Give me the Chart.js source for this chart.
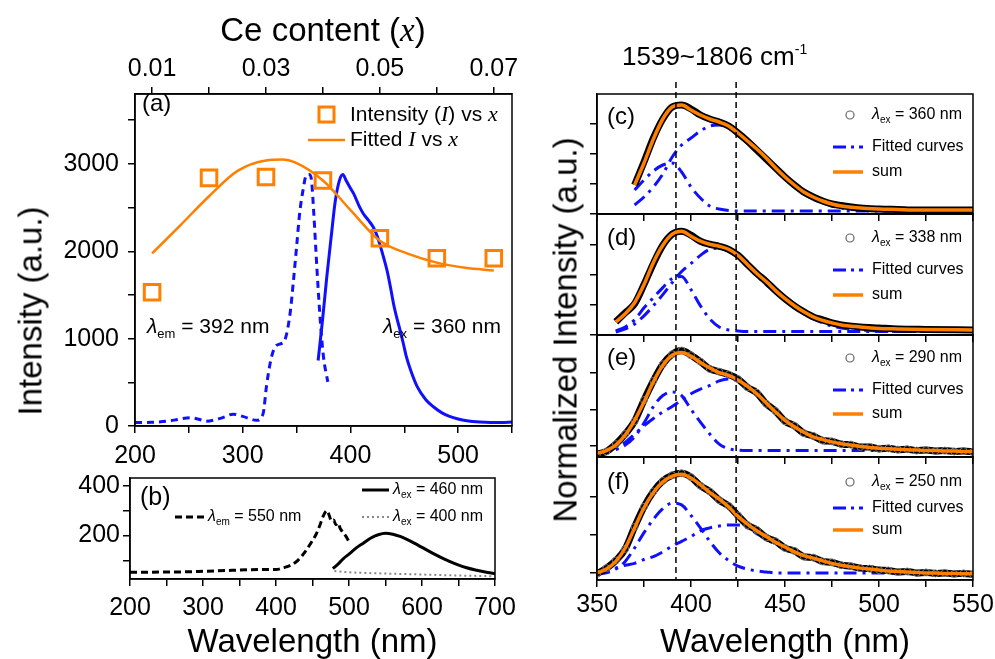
<!DOCTYPE html>
<html>
<head>
<meta charset="utf-8">
<script src="https://cdn.jsdelivr.net/npm/chart.js@4/dist/chart.umd.min.js"></script>
<style>
  body { margin: 0; background: #fff; width: 995px; height: 659px; position: relative; overflow: hidden;
         font-family: "Liberation Sans", Arial, sans-serif; }
  canvas { position: absolute; }
  .t { position: absolute; white-space: nowrap; color: #000; line-height: 1; }
  .t i { font-family: "Liberation Serif", "Times New Roman", serif; }
  .rot { transform: translate(-50%, -50%) rotate(-90deg); }
  sup { font-size: 14px; vertical-align: 11px; }
</style>
</head>
<body>
<canvas id="pa" width="540" height="470" style="left:0;top:0"></canvas>
<canvas id="pb" width="540" height="199" style="left:0;top:460px"></canvas>
<canvas id="pc" width="470" height="224" style="left:540px;top:0"></canvas>
<canvas id="pd" width="470" height="141" style="left:540px;top:204px"></canvas>
<canvas id="pe" width="470" height="142" style="left:540px;top:325px"></canvas>
<canvas id="pf" width="470" height="212" style="left:540px;top:447px"></canvas>

<div class="t" style="left:323px;top:30px;font-size:33px;transform:translate(-50%,-50%)">Ce content (<i>x</i>)</div>
<div class="t" style="left:622px;top:55px;font-size:26px;transform:translateY(-50%)">1539~1806 cm<sup>-1</sup></div>
<div class="t rot" style="left:30px;top:311px;font-size:33px">Intensity (a.u.)</div>
<div class="t rot" style="left:565px;top:330px;font-size:33px">Normalized Intensity (a.u.)</div>

<script>
const SANS = '"Liberation Sans", Arial, Helvetica, sans-serif';
const SERIF = '"Liberation Serif", "Times New Roman", serif';
const ORANGE = '#ff8000';
const BLUE = '#1010ff';
const DASHDOT = [13, 6, 3, 6];

// ---- (a) Ce content series (top axis) ----
const ceContent = [0.01, 0.02, 0.03, 0.04, 0.05, 0.06, 0.07];
const ceIntensity = [1530, 2840, 2850, 2810, 2150, 1920, 1920];
const fitContent = [0.010, 0.015, 0.020, 0.025, 0.030, 0.033, 0.035, 0.040, 0.045, 0.050, 0.055, 0.060, 0.065, 0.070];
const fitIntensity = [1975, 2300, 2630, 2920, 3040, 3050, 3020, 2810, 2460, 2120, 1970, 1870, 1810, 1780];

// ---- (a) excitation (em 392 nm) and emission (ex 360 nm) ----
const excWl = [200, 215, 230, 240, 251, 260, 266, 280, 291, 300, 313, 319, 322, 326, 330, 335, 339, 344, 347, 350, 353, 356, 359, 362, 364, 366, 369, 372, 375, 379];
const excIntensity = [40, 42, 55, 75, 95, 75, 55, 90, 135, 110, 65, 145, 450, 750, 905, 940, 980, 1290, 1650, 2050, 2450, 2700, 2870, 2880, 2800, 2430, 1780, 1210, 790, 505];
const emWl = [370, 374, 378, 382, 386, 390, 393, 396, 400, 403, 408, 412, 417, 421, 425, 428, 431, 434, 437, 440, 443, 446, 449, 452, 457, 462, 470, 477, 485, 492, 500, 508, 520, 530, 540, 550];
const emIntensity = [750, 1200, 1700, 2150, 2580, 2820, 2880, 2810, 2720, 2660, 2520, 2430, 2350, 2280, 2170, 2050, 1920, 1780, 1600, 1400, 1240, 1100, 950, 790, 600, 450, 300, 220, 150, 110, 80, 60, 45, 40, 40, 45];

// ---- (b) ----
const bExcWl = [200, 220, 240, 260, 280, 300, 320, 340, 360, 380, 400, 410, 420, 430, 440, 450, 455, 460, 465, 470, 473, 476, 479, 482, 485, 488, 491, 495, 500];
const bExcVal = [52, 52, 53, 53, 54, 56, 58, 60, 62, 63, 63, 70, 80, 100, 135, 180, 205, 240, 280, 300, 280, 258, 262, 243, 250, 228, 215, 200, 176];
const bEm460Wl = [478, 485, 492, 500, 510, 520, 530, 540, 550, 560, 570, 580, 590, 600, 615, 630, 645, 660, 675, 690, 700];
const bEm460Val = [67, 85, 106, 125, 150, 170, 190, 203, 209, 205, 196, 183, 168, 152, 128, 106, 87, 71, 60, 51, 47];
const bEm400Wl = [480, 500, 550, 600, 650, 700];
const bEm400Val = [57, 52, 47, 43, 39, 36];

// ---- (c) ex 360 nm ----
const cWl = [370, 375, 380, 385, 390, 395, 400, 405, 410, 415, 420, 425, 430, 435, 440, 445, 450, 455, 460, 465, 470, 475, 480, 490, 500, 510, 520, 535, 550];
const cMeas = [0.29, 0.52, 0.76, 0.95, 1.07, 1.09, 1.05, 0.99, 0.95, 0.92, 0.88, 0.81, 0.73, 0.64, 0.55, 0.46, 0.37, 0.29, 0.22, 0.17, 0.13, 0.10, 0.085, 0.06, 0.05, 0.045, 0.04, 0.04, 0.04];
const cSum = [0.29, 0.51, 0.75, 0.95, 1.07, 1.09, 1.04, 0.99, 0.95, 0.92, 0.88, 0.81, 0.73, 0.65, 0.56, 0.46, 0.37, 0.29, 0.22, 0.17, 0.13, 0.10, 0.08, 0.06, 0.05, 0.045, 0.04, 0.04, 0.04];
const cFit1 = [0.24, 0.34, 0.43, 0.49, 0.51, 0.42, 0.27, 0.16, 0.08, 0.05, 0.035, 0.03, 0.03, 0.03, 0.03, 0.03, 0.03, 0.03, 0.03, 0.03, 0.03, 0.03, 0.03, 0.03, 0.03, 0.03, 0.03, 0.03, 0.03];
const cFit2 = [0.09, 0.17, 0.27, 0.40, 0.57, 0.69, 0.76, 0.83, 0.88, 0.89, 0.86, 0.79, 0.71, 0.63, 0.54, 0.44, 0.35, 0.27, 0.20, 0.15, 0.11, 0.08, 0.06, 0.04, 0.035, 0.03, 0.03, 0.03, 0.03];

// ---- (d) ex 338 nm ----
const dWl = [360, 365, 370, 375, 380, 385, 390, 395, 400, 405, 410, 415, 420, 425, 430, 435, 440, 445, 450, 455, 460, 465, 470, 475, 480, 490, 500, 510, 525, 550];
const dMeas = [0.13, 0.22, 0.31, 0.50, 0.71, 0.89, 1.00, 1.03, 0.99, 0.93, 0.90, 0.88, 0.85, 0.79, 0.70, 0.61, 0.53, 0.44, 0.36, 0.29, 0.23, 0.18, 0.15, 0.12, 0.10, 0.08, 0.07, 0.06, 0.055, 0.05];
const dSum = [0.13, 0.21, 0.32, 0.50, 0.72, 0.89, 1.00, 1.03, 0.98, 0.93, 0.90, 0.88, 0.85, 0.79, 0.70, 0.61, 0.53, 0.44, 0.36, 0.29, 0.23, 0.18, 0.145, 0.12, 0.10, 0.08, 0.065, 0.06, 0.055, 0.05];
const dFit1 = [0.04, 0.08, 0.15, 0.27, 0.37, 0.47, 0.56, 0.58, 0.45, 0.29, 0.16, 0.08, 0.05, 0.04, 0.035, 0.035, 0.035, 0.035, 0.035, 0.035, 0.035, 0.035, 0.035, 0.035, 0.035, 0.035, 0.035, 0.035, 0.035, 0.035];
const dFit2 = [0.03, 0.06, 0.11, 0.19, 0.29, 0.40, 0.52, 0.63, 0.71, 0.79, 0.85, 0.86, 0.83, 0.77, 0.68, 0.59, 0.50, 0.42, 0.34, 0.27, 0.21, 0.16, 0.12, 0.09, 0.07, 0.05, 0.04, 0.035, 0.035, 0.035];

// ---- (e) ex 290 nm and (f) ex 250 nm, 5 nm grid ----
const efWl = [350, 355, 360, 365, 370, 375, 380, 385, 390, 395, 400, 405, 410, 415, 420, 425, 430, 435, 440, 445, 450, 455, 460, 465, 470, 475, 480, 485, 490, 495, 500, 505, 510, 515, 520, 525, 530, 535, 540, 545, 550];
const eMeas = [-0.09, -0.06, 0.02, 0.13, 0.27, 0.50, 0.71, 0.89, 1.00, 1.04, 0.99, 0.92, 0.84, 0.81, 0.78, 0.73, 0.64, 0.58, 0.46, 0.38, 0.27, 0.22, 0.14, 0.11, 0.06, 0.05, 0.02, 0.015, -0.01, -0.01, -0.03, -0.025, -0.04, -0.035, -0.05, -0.045, -0.055, -0.05, -0.06, -0.055, -0.065];
const eSum = [-0.08, -0.05, 0.01, 0.12, 0.28, 0.48, 0.70, 0.88, 0.99, 1.02, 0.98, 0.91, 0.85, 0.80, 0.77, 0.72, 0.65, 0.57, 0.47, 0.37, 0.28, 0.21, 0.15, 0.10, 0.07, 0.045, 0.025, 0.01, -0.005, -0.015, -0.025, -0.03, -0.035, -0.04, -0.045, -0.05, -0.05, -0.055, -0.055, -0.06, -0.06];
const eFit1 = [-0.07, -0.06, -0.04, 0.01, 0.10, 0.25, 0.43, 0.55, 0.59, 0.55, 0.40, 0.26, 0.13, 0.02, -0.03, -0.045, -0.05, -0.05, -0.05, -0.05, -0.05, -0.05, -0.05, -0.05, -0.05, -0.05, -0.05, -0.05, -0.05, -0.05, -0.05, -0.05, -0.055, -0.055, -0.055, -0.055, -0.055, -0.055, -0.055, -0.055, -0.055];
const eFit2 = [-0.07, -0.06, -0.03, 0.04, 0.13, 0.22, 0.30, 0.37, 0.43, 0.50, 0.57, 0.62, 0.66, 0.71, 0.73, 0.71, 0.65, 0.57, 0.47, 0.37, 0.28, 0.21, 0.15, 0.10, 0.07, 0.045, 0.025, 0.01, -0.005, -0.015, -0.025, -0.03, -0.035, -0.04, -0.045, -0.05, -0.05, -0.055, -0.055, -0.06, -0.06];
const fMeas = [-0.01, 0.05, 0.13, 0.25, 0.48, 0.69, 0.85, 0.96, 1.02, 1.04, 1.00, 0.91, 0.85, 0.76, 0.70, 0.60, 0.50, 0.45, 0.37, 0.33, 0.26, 0.23, 0.17, 0.16, 0.12, 0.11, 0.08, 0.07, 0.05, 0.045, 0.03, 0.025, 0.01, 0.015, 0.0, 0.005, -0.005, 0.0, -0.01, -0.005, -0.015];
const fSum = [0.0, 0.04, 0.12, 0.26, 0.47, 0.68, 0.84, 0.95, 1.01, 1.03, 0.99, 0.92, 0.84, 0.77, 0.69, 0.59, 0.51, 0.44, 0.38, 0.32, 0.27, 0.22, 0.18, 0.155, 0.125, 0.10, 0.08, 0.065, 0.05, 0.04, 0.03, 0.02, 0.015, 0.01, 0.005, 0.0, 0.0, -0.005, -0.005, -0.01, -0.01];
const fFit1 = [-0.01, 0.0, 0.04, 0.12, 0.26, 0.42, 0.56, 0.67, 0.73, 0.71, 0.60, 0.47, 0.33, 0.21, 0.13, 0.07, 0.04, 0.02, 0.01, 0.0, 0.0, 0.0, 0.0, 0.0, 0.0, 0.0, 0.0, 0.0, 0.0, 0.0, 0.0, 0.0, 0.0, 0.0, 0.0, 0.0, 0.0, 0.0, 0.0, 0.0, 0.0];
const fFit2 = [-0.01, 0.01, 0.05, 0.08, 0.10, 0.14, 0.17, 0.22, 0.28, 0.33, 0.38, 0.44, 0.47, 0.49, 0.50, 0.50, 0.47, 0.41, 0.35, 0.30, 0.25, 0.21, 0.17, 0.145, 0.115, 0.09, 0.07, 0.055, 0.04, 0.03, 0.02, 0.015, 0.01, 0.005, 0.0, 0.0, 0.0, 0.0, 0.0, 0.0, 0.0];

// ---- ticks ----
const aWlTicks = [200, 250, 300, 350, 400, 450, 500, 550];
const aWlLabels = ['200', '', '300', '', '400', '', '500', ''];
const ceTicks = [0.01, 0.02, 0.03, 0.04, 0.05, 0.06, 0.07];
const ceLabels = ['0.01', '', '0.03', '', '0.05', '', '0.07'];
const aYTicks = [0, 500, 1000, 1500, 2000, 2500, 3000, 3500];
const aYLabels = ['0', '', '1000', '', '2000', '', '3000', ''];
const bWlTicks = [200, 250, 300, 350, 400, 450, 500, 550, 600, 650, 700];
const bWlLabels = ['200', '', '300', '', '400', '', '500', '', '600', '', '700'];
const bYTicks = [100, 200, 300, 400];
const bYLabels = ['', '200', '', '400'];
const rWlTicks = [350, 375, 400, 425, 450, 475, 500, 525, 550];
const rWlLabels = ['350', '', '400', '', '450', '', '500', '', '550'];
const guideNm = [392, 424];

Chart.defaults.font.family = SANS;
Chart.defaults.color = '#000';
Chart.defaults.animation = false;
Chart.defaults.responsive = false;
Chart.defaults.events = [];
Chart.defaults.plugins.legend.display = false;
Chart.defaults.plugins.tooltip.enabled = false;
Chart.defaults.elements.point.radius = 0;
Chart.defaults.elements.line.cubicInterpolationMode = 'monotone';

const pts = (xs, ys) => xs.map((x, i) => ({ x, y: ys[i] }));

function axis(o) {
  return {
    type: 'linear',
    position: o.position,
    min: o.min,
    max: o.max,
    grid: { drawOnChartArea: false, drawTicks: true, tickLength: 7, color: '#000', lineWidth: 1.5 },
    border: { display: true, color: '#000', width: 1.5 },
    ticks: {
      display: !!o.labels,
      color: '#000',
      font: { family: SANS, size: 25 },
      padding: o.pad ?? 4,
      autoSkip: false, maxRotation: 0, minRotation: 0,
      callback: (v, i) => (o.labels ? o.labels[i] : '')
    },
    title: o.title
      ? { display: true, text: o.title, color: '#000', font: { family: SANS, size: 33, lineHeight: 1 }, padding: 0 }
      : { display: false },
    afterBuildTicks: s => { s.ticks = o.ticks.map(v => ({ value: v })); },
    afterFit: s => {
      if (o.width != null) s.width = o.width;
      if (o.height != null) s.height = o.height;
    }
  };
}

// text with italic serif symbols and subscripts
function rich(ctx, x, y, parts, size) {
  ctx.save();
  ctx.fillStyle = '#000';
  ctx.textBaseline = 'middle';
  ctx.textAlign = 'left';
  let cx = x;
  for (const [txt, kind = ''] of parts) {
    let face = `${size}px ${SANS}`, dy = 0;
    if (kind === 'sub') { face = `${Math.round(size * 0.6)}px ${SANS}`; dy = size * 0.35; }
    else if (kind === 'i') face = `italic ${Math.round(size * 1.05)}px ${SERIF}`;
    else if (kind === 'g') face = `italic ${size}px ${SANS}`;
    ctx.font = face;
    ctx.fillText(txt, cx, y + dy);
    cx += ctx.measureText(txt).width;
  }
  ctx.restore();
}

function seg(ctx, x1, y1, x2, y2, color, width, dash) {
  ctx.save();
  ctx.strokeStyle = color;
  ctx.lineWidth = width;
  ctx.setLineDash(dash || []);
  ctx.beginPath();
  ctx.moveTo(x1, y1);
  ctx.lineTo(x2, y2);
  ctx.stroke();
  ctx.restore();
}

const frame = {
  id: 'frame',
  afterDatasetsDraw(chart) {
    const { ctx, chartArea: a } = chart;
    ctx.save();
    ctx.strokeStyle = '#000';
    ctx.lineWidth = 1.5;
    ctx.strokeRect(a.left, a.top, a.width, a.height);
    ctx.restore();
  }
};

// ---------------- panel (a) ----------------
const notesA = {
  id: 'notesA',
  afterDraw(chart) {
    const ctx = chart.ctx;
    rich(ctx, 142, 104, [['(a)']], 24);
    ctx.save();
    ctx.strokeStyle = ORANGE;
    ctx.lineWidth = 3;
    ctx.strokeRect(319, 107, 15, 15);
    ctx.restore();
    seg(ctx, 308, 140, 345, 140, ORANGE, 2.5);
    rich(ctx, 350, 115, [['Intensity ('], ['I', 'i'], [') vs '], ['x', 'i']], 21);
    rich(ctx, 350, 140, [['Fitted '], ['I', 'i'], [' vs '], ['x', 'i']], 21);
    rich(ctx, 147, 327, [['λ', 'g'], ['em', 'sub'], [' = 392 nm']], 21);
    rich(ctx, 383, 327, [['λ', 'g'], ['ex', 'sub'], [' = 360 nm']], 21);
  }
};

new Chart(document.getElementById('pa'), {
  type: 'line',
  data: {
    datasets: [
      { data: pts(ceContent, ceIntensity), xAxisID: 'xt', showLine: false, pointStyle: 'rect', pointRadius: 11,
        pointBorderWidth: 3, pointBorderColor: ORANGE, pointBackgroundColor: 'rgba(0,0,0,0)', order: 0 },
      { data: pts(fitContent, fitIntensity), xAxisID: 'xt', borderColor: ORANGE, borderWidth: 2.5, order: 1 },
      { data: pts(emWl, emIntensity), borderColor: BLUE, borderWidth: 3, order: 2 },
      { data: pts(excWl, excIntensity), borderColor: BLUE, borderWidth: 3, borderDash: [7, 5], order: 3 }
    ]
  },
  options: {
    layout: { padding: { left: 0, top: 0, right: 28, bottom: 0 } },
    scales: {
      x: axis({ position: 'bottom', min: 200, max: 550, ticks: aWlTicks, labels: aWlLabels, height: 44, pad: 8 }),
      xt: axis({ position: 'top', min: 0.007, max: 0.0732, ticks: ceTicks, labels: ceLabels, height: 94, pad: 3 }),
      y: axis({ position: 'left', min: 0, max: 3800, ticks: aYTicks, labels: aYLabels, width: 135, pad: 9 })
    }
  },
  plugins: [frame, notesA]
});

// ---------------- panel (b) ----------------
const notesB = {
  id: 'notesB',
  afterDraw(chart) {
    const ctx = chart.ctx;
    rich(ctx, 140, 38, [['(b)']], 25);
    seg(ctx, 175, 57, 204, 57, '#000', 3, [7, 4]);
    rich(ctx, 208, 57, [['λ', 'g'], ['em', 'sub'], [' = 550 nm']], 16);
    seg(ctx, 362, 30, 389, 30, '#000', 3);
    rich(ctx, 393, 30, [['λ', 'g'], ['ex', 'sub'], [' = 460 nm']], 16);
    seg(ctx, 362, 57, 389, 57, '#888', 2, [2, 3]);
    rich(ctx, 393, 57, [['λ', 'g'], ['ex', 'sub'], [' = 400 nm']], 16);
  }
};

new Chart(document.getElementById('pb'), {
  type: 'line',
  data: {
    datasets: [
      { data: pts(bExcWl, bExcVal), borderColor: '#000', borderWidth: 3, borderDash: [7, 4] },
      { data: pts(bEm460Wl, bEm460Val), borderColor: '#000', borderWidth: 3 },
      { data: pts(bEm400Wl, bEm400Val), borderColor: '#888', borderWidth: 2, borderDash: [2, 3] }
    ]
  },
  options: {
    layout: { padding: { left: 0, top: 15, right: 45, bottom: 0 } },
    scales: {
      x: axis({ position: 'bottom', min: 200, max: 700, ticks: bWlTicks, labels: bWlLabels, height: 80, pad: 7, title: 'Wavelength (nm)' }),
      y: axis({ position: 'left', min: 25, max: 431, ticks: bYTicks, labels: bYLabels, width: 130, pad: 3 })
    }
  },
  plugins: [frame, notesB]
});

// ---------------- panels (c)-(f) ----------------
function spectrumPanel(id, p) {
  const notes = {
    id: 'notes_' + id,
    afterDatasetsDraw(chart) {
      const { ctx, chartArea: a } = chart;
      const xs = chart.scales.x;
      for (const nm of guideNm) {
        const gx = xs.getPixelForValue(nm);
        seg(ctx, gx, a.top - p.guideTop, gx, a.bottom, '#000', 1.5, [6, 4]);
      }
    },
    afterDraw(chart) {
      const { ctx, chartArea: a } = chart;
      const [y1, y2, y3] = p.legendY.map(d => a.top + d);
      rich(ctx, a.left + 10, a.top + p.labelY, [[p.label]], 24);
      ctx.save();
      ctx.strokeStyle = '#666';
      ctx.lineWidth = 1.2;
      ctx.beginPath();
      ctx.arc(a.left + 253, y1, 4, 0, Math.PI * 2);
      ctx.stroke();
      ctx.restore();
      rich(ctx, a.left + 275, y1, [['λ', 'g'], ['ex', 'sub'], [` = ${p.exc} nm`]], 16);
      seg(ctx, a.left + 236, y2, a.left + 266, y2, BLUE, 3, [13, 5, 3, 5]);
      rich(ctx, a.left + 275, y2, [['Fitted curves']], 16);
      seg(ctx, a.left + 236, y3, a.left + 266, y3, ORANGE, 3.5);
      rich(ctx, a.left + 275, y3, [['sum']], 16);
    }
  };

  new Chart(document.getElementById(id), {
    type: 'line',
    data: {
      datasets: [
        { data: pts(p.wl, p.sum), borderColor: ORANGE, borderWidth: 3.5, order: 0 },
        { data: pts(p.wl, p.meas), borderColor: '#000', borderWidth: 7, order: 1,
          pointRadius: p.noisy ? 3.5 : 0, pointBorderColor: '#777', pointBorderWidth: 1,
          pointBackgroundColor: 'rgba(0,0,0,0)' },
        { data: pts(p.wl, p.fit1), borderColor: BLUE, borderWidth: 3, borderDash: DASHDOT, order: 2 },
        { data: pts(p.wl, p.fit2), borderColor: BLUE, borderWidth: 3, borderDash: DASHDOT, order: 3 }
      ]
    },
    options: {
      layout: { padding: { left: 0, top: p.padTop, right: 37, bottom: 0 } },
      scales: {
        x: axis(Object.assign({ position: 'bottom', min: 350, max: 550, ticks: rWlTicks, height: p.xHeight },
          p.bottom ? { labels: rWlLabels, pad: 3, title: 'Wavelength (nm)' } : {})),
        y: axis({ position: 'left', min: p.yMin, max: p.yMax, ticks: p.yTicks, width: 57 })
      }
    },
    plugins: [frame, notes]
  });
}

spectrumPanel('pc', { wl: cWl, meas: cMeas, sum: cSum, fit1: cFit1, fit2: cFit2, exc: 360, label: '(c)',
  yMin: 0, yMax: 1.2, yTicks: [0, 0.3, 0.6, 0.9], padTop: 94, xHeight: 10, guideTop: 12,
  labelY: 23, legendY: [21, 53, 78] });
spectrumPanel('pd', { wl: dWl, meas: dMeas, sum: dSum, fit1: dFit1, fit2: dFit2, exc: 338, label: '(d)',
  yMin: 0, yMax: 1.2, yTicks: [0, 0.3, 0.6, 0.9], padTop: 10, xHeight: 10, guideTop: 0,
  labelY: 24, legendY: [24, 56, 81] });
spectrumPanel('pe', { wl: efWl, meas: eMeas, sum: eSum, fit1: eFit1, fit2: eFit2, exc: 290, label: '(e)', noisy: true,
  yMin: -0.12, yMax: 1.21, yTicks: [0, 0.4, 0.8], padTop: 10, xHeight: 10, guideTop: 0,
  labelY: 23, legendY: [23, 55, 79] });
spectrumPanel('pf', { wl: efWl, meas: fMeas, sum: fSum, fit1: fFit1, fit2: fFit2, exc: 250, label: '(f)', noisy: true,
  yMin: -0.074, yMax: 1.21, yTicks: [0, 0.4, 0.8], padTop: 10, xHeight: 79, guideTop: 0, bottom: true,
  labelY: 25, legendY: [25, 51, 73] });
</script>
</body>
</html>
